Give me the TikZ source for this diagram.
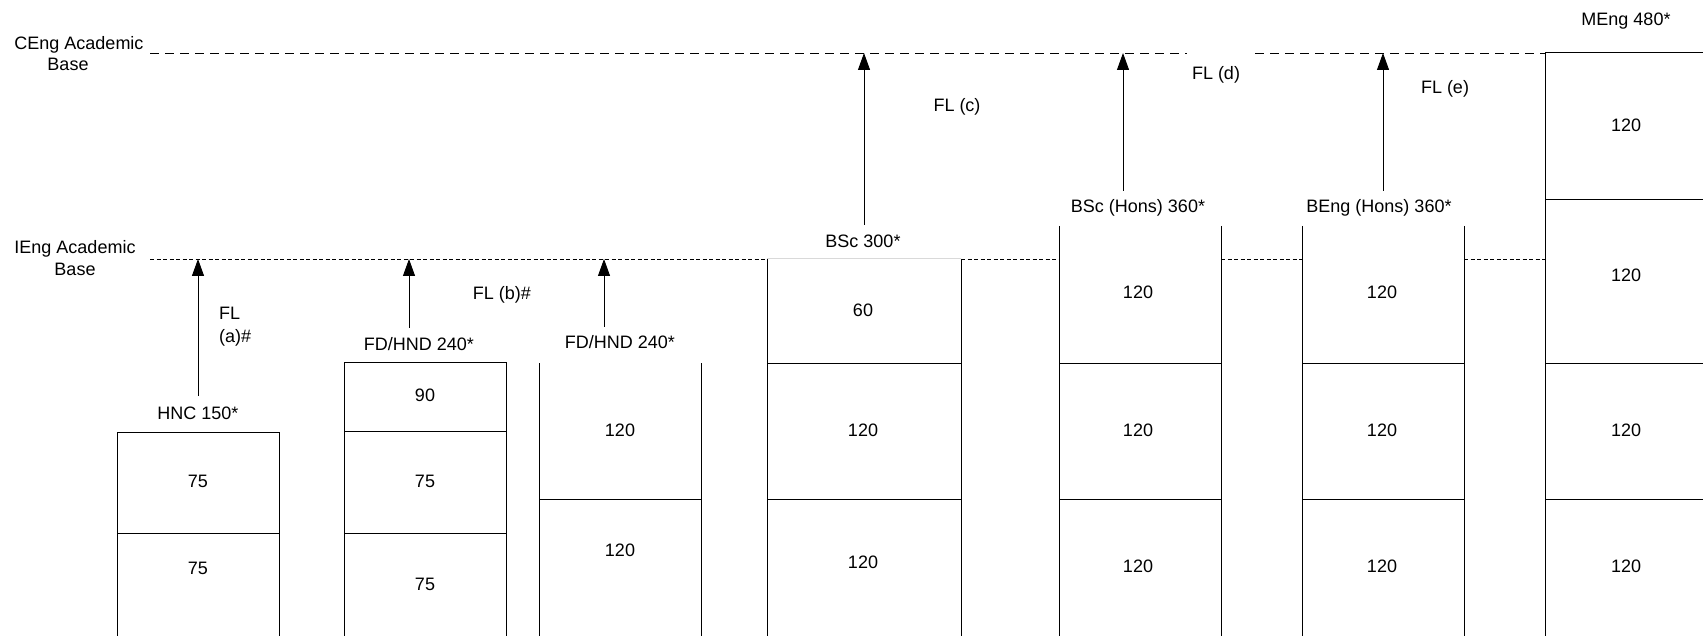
\documentclass[tikz,border=0pt]{standalone}
\usepackage{fontspec}
\setmainfont{Liberation Sans}
\usetikzlibrary{arrows.meta,positioning}
\tikzset{
    lbl/.style={font=\fontsize{18}{21}\selectfont, inner sep=0pt, text height=13pt, text depth=0pt},
    cell/.style={line width=1pt},
    fl/.style={line width=1pt, -{Triangle[length=17pt,width=12pt]}},
    ibase/.style={line width=0.9pt, dash pattern=on 4pt off 2.5pt},
    cbase/.style={line width=0.9pt, dash pattern=on 9pt off 6pt},
}

\begin{document}
\begin{tikzpicture}[x=1pt,y=-1pt]
    \useasboundingbox (0,0) rectangle (1703,636);
    \clip (0,0) rectangle (1703,636);

    % academic bases
    \node[lbl] (CE1) at (79,43) {CEng Academic};
    \node[lbl] (CE2) at (68,64) {Base};
    \node[lbl] (IE1) at (75,247) {IEng Academic};
    \node[lbl] (IE2) at (75,269) {Base};
    \foreach \a/\b in {150/1187,1255/1545}{\draw[cbase] (\a,53) -- (\b,53);}
    \foreach \a/\b in {150/767,961/1059,1221/1302,1464/1545}{\draw[ibase] (\a,259) -- (\b,259);}

    % columns: left/right/top of the sides
    \foreach \l/\r/\t in {117/279/432,344/506/362,539/701/363,767/961/259,1059/1221/226,1302/1464/226,1545/1707/53}{
        \draw[cell] (\l,\t) -- (\l,640) (\r,\t) -- (\r,640);
    }
    % tops and dividers
    \foreach \l/\r/\y in {117/279/432,117/279/533,344/506/362,344/506/431,344/506/533,539/701/499,
                          767/961/363,767/961/499,1059/1221/363,1059/1221/499,1302/1464/363,1302/1464/499,
                          1545/1707/53,1545/1707/200,1545/1707/363,1545/1707/499}{
        \draw[cell] (\l,\y) -- (\r,\y);
    }
    \draw[cell,gray!30] (767,259) -- (961,259);

    % credits
    \foreach \n/\x/\y/\t in {hncA/198/481/75, hncB/198/568/75,
                             fdA/425/395/90, fdB/425/481/75, fdC/425/584/75,
                             fdD/620/430/120, fdE/620/550/120,
                             bscA/863/310/60, bscB/863/430/120, bscC/863/562/120,
                             bshA/1138/292/120, bshB/1138/430/120, bshC/1138/566/120,
                             behA/1382/292/120, behB/1382/430/120, behC/1382/566/120,
                             mengA/1626/125/120, mengB/1626/275/120, mengC/1626/430/120, mengD/1626/566/120}{
        \node[lbl] (\n) at (\x,\y) {\t};
    }

    % awards
    \node[lbl] (hnc) at (198,413) {HNC 150*};
    \node[lbl] (fdhndA) at (419,344) {FD/HND 240*};
    \node[lbl] (fdhndB) at (620,342) {FD/HND 240*};
    \node[lbl] (bsc) at (863,241) {BSc 300*};
    \node[lbl] (bsch) at (1138,206) {BSc (Hons) 360*};
    \node[lbl] (bengh) at (1379,206) {BEng (Hons) 360*};
    \node[lbl] (meng) at (1626,19) {MEng 480*};

    % fast-track routes
    \foreach \n/\x/\b/\t in {a/198/396/259, b/409/328/259, bb/604/327/259, c/864/225/53, d/1123/191/53, e/1383/191/53}{
        \coordinate (s\n) at (\x,\b);
        \coordinate (t\n) at (\x,\t);
        \draw[fl] (s\n) -- (t\n);
    }
    \node[font=\fontsize{18}{23}\selectfont, align=left, anchor=west, inner sep=0pt] (fla) at (219,327) {FL\\(a)\#};
    \node[lbl] (flb) at (502,293) {FL (b)\#};
    \node[lbl] (flc) at (957,105) {FL (c)};
    \node[lbl] (fld) at (1216,73) {FL (d)};
    \node[lbl] (fle) at (1445,87) {FL (e)};
\end{tikzpicture}
\end{document}
